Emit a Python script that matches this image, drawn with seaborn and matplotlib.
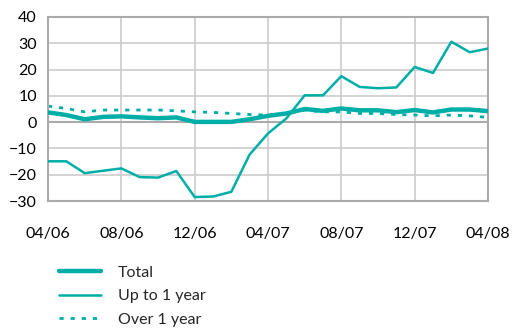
import numpy as np
import pandas as pd
import seaborn as sns
import matplotlib.pyplot as plt

# monthly data, 04/06 .. 04/08
months = pd.date_range("2006-04-01", "2008-04-01", freq="MS")
total = [3.7, 2.7, 1.1, 2.0, 2.2, 1.8, 1.5, 1.8, 0.1, 0.1, 0.1, 1.1, 2.4,
         3.3, 5.0, 4.3, 5.2, 4.5, 4.5, 3.8, 4.6, 3.7, 4.8, 4.8, 4.2]
up_to_1y = [-14.9, -14.9, -19.4, -18.5, -17.6, -20.9, -21.1, -18.6, -28.5, -28.3, -26.5, -12.3, -4.3,
            1.4, 10.2, 10.2, 17.5, 13.4, 12.9, 13.2, 21.0, 18.7, 30.6, 26.6, 28.0]
over_1y = [6.1, 5.2, 3.9, 4.6, 4.6, 4.6, 4.6, 4.3, 3.9, 3.7, 3.3, 2.9, 2.7,
           3.3, 4.6, 3.9, 3.9, 3.3, 3.3, 2.9, 2.7, 2.4, 2.7, 2.4, 1.8]
tick_labels = ["04/06", "08/06", "12/06", "04/07", "08/07", "12/07", "04/08"]

df = pd.DataFrame({"month": np.arange(len(months)), "Total": total,
                   "Up to 1 year": up_to_1y, "Over 1 year": over_1y})

sns.set_style("white")
plt.rcParams['font.family'] = ['Lato', 'DejaVu Sans']
teal = '#00aea8'

fig = plt.figure(figsize=(5.18, 3.31), dpi=100)
ax = fig.add_axes([48/518, 1-201/331, 440/518, 184/331])

l1, = ax.plot(df["month"], df["Total"], color=teal, lw=3.2, label="Total", zorder=3)
l2, = ax.plot(df["month"], df["Up to 1 year"], color=teal, lw=1.8, label="Up to 1 year", zorder=3)
l3, = ax.plot(df["month"], df["Over 1 year"], color=teal, lw=2, ls=(0, (1.5, 2.5)), label="Over 1 year", zorder=2)

ax.set_xlim(0, 24)
ax.set_ylim(-30, 40)
ax.set_xticks(range(0, 25, 4))
ax.set_xticklabels(tick_labels)
ax.set_yticks(range(-30, 41, 10))
ax.grid(True, color='#cccccc', lw=1.2)
ax.axhline(0, color='#aaaaaa', lw=1.5, zorder=1)
for s in ax.spines.values():
    s.set_color('#aaaaaa')
    s.set_linewidth(1.5)
ax.tick_params(axis='both', length=0, labelsize=11.5, colors='black')
ax.tick_params(axis='x', pad=19)
ax.tick_params(axis='y', pad=8)

fig.legend(handles=[l1, l2, l3], loc='upper left', bbox_to_anchor=(45/518, 1-251/331),
           frameon=False, fontsize=11.5, handlelength=2.6, handletextpad=1.05,
           labelspacing=0.6)

fig.savefig("out.png", dpi=100)
